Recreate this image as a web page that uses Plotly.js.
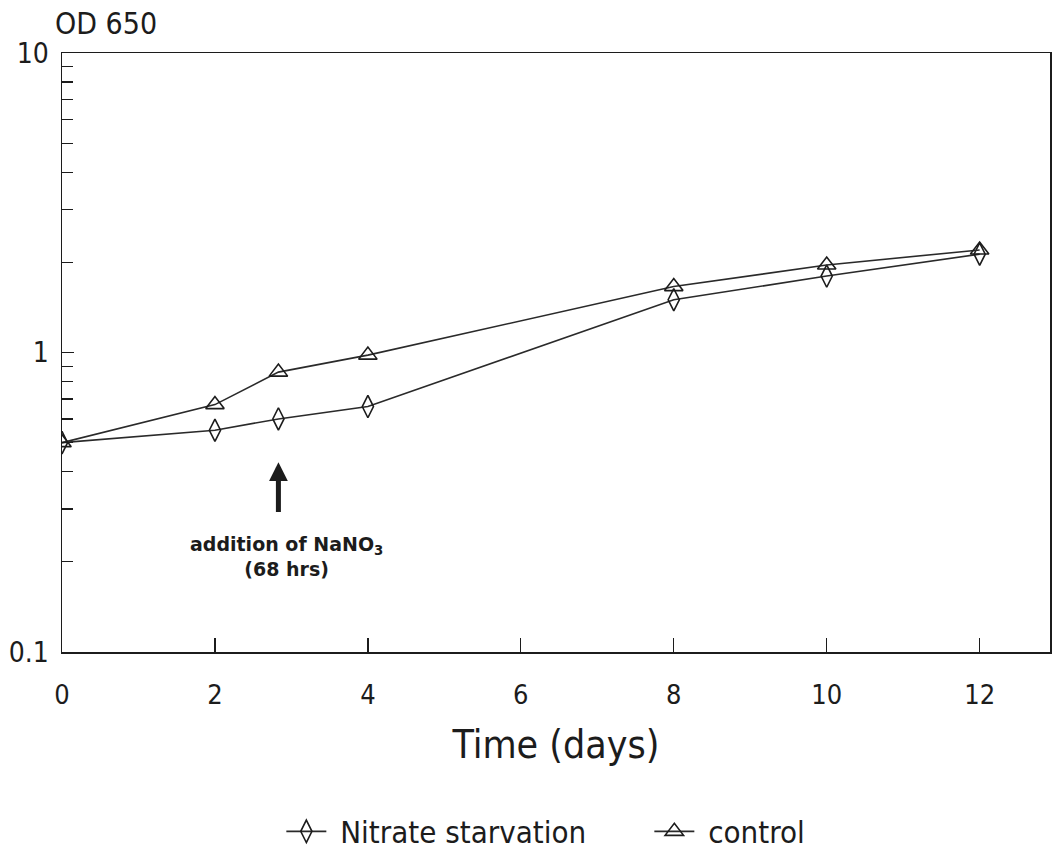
<!DOCTYPE html>
<html>
<head>
<meta charset="utf-8">
<script src="https://cdn.plot.ly/plotly-3.0.1.min.js"></script>
<style>html,body{margin:0;padding:0;background:#fff;}#chart{width:1053px;height:862px;}</style>
</head>
<body>
<div id="chart"></div>
<script>
// Data (time in days, OD 650)
const timeDays = [0, 2, 2.83, 4, 8, 10, 12];
const nitrateStarvation = [0.50, 0.55, 0.60, 0.66, 1.50, 1.80, 2.13];
const control = [0.50, 0.67, 0.86, 0.98, 1.66, 1.96, 2.20];
const xTickVals = [0, 2, 4, 6, 8, 10, 12];
const yTickVals = [0.1, 1, 10];
const yTickText = ['0.1', '1', '10'];
const yMinorVals = [0.2,0.3,0.4,0.5,0.6,0.7,0.8,0.9,2,3,4,5,6,7,8,9];
const seriesNames = ['Nitrate starvation', 'control'];
const additionTime = 2.83;   // 68 hrs
const arrowHead = 0.43;
const arrowTail = 0.29;
const labelY = 0.208;

const FONT = '"DejaVu Sans Condensed", "Liberation Sans", Arial, sans-serif';
const INK = '#1c1c1c';

const traces = [
  {
    x: timeDays, y: nitrateStarvation, name: '\u00a0' + seriesNames[0],
    mode: 'lines+markers', type: 'scatter',
    line: {color: '#2a2a2a', width: 1.6},
    marker: {symbol: 'diamond-tall-open', size: 16, color: '#1c1c1c', line: {width: 1.6}}
  },
  {
    x: timeDays, y: control, name: '\u00a0' + seriesNames[1],
    mode: 'lines+markers', type: 'scatter',
    line: {color: '#2a2a2a', width: 1.6},
    marker: {symbol: 'triangle-up-open', size: 16, color: '#1c1c1c', line: {width: 1.6}}
  }
];

const layout = {
  width: 1053, height: 862,
  paper_bgcolor: '#fff', plot_bgcolor: '#fff',
  margin: {l: 62, r: 3, t: 53, b: 208},
  font: {family: FONT, color: INK},
  showlegend: true,
  legend: {
    orientation: 'h', x: 0.222, xanchor: 'left', y: -0.30, yanchor: 'middle',
    font: {size: 31, family: FONT, color: INK}, itemwidth: 40,
    entrywidth: 313, entrywidthmode: 'pixels'
  },
  xaxis: {
    range: [0, 12.92], tickvals: xTickVals, ticktext: xTickVals.map(String),
    ticks: 'inside', ticklen: 14, tickwidth: 1.3, tickcolor: INK,
    showline: true, linecolor: INK, linewidth: 1.5, mirror: true,
    showgrid: false, zeroline: false,
    tickfont: {size: 27, family: FONT, color: INK},
    ticklabelstandoff: 18,
    title: {text: 'Time (days)', font: {size: 39, family: FONT, color: INK}, standoff: 22}
  },
  yaxis: {
    type: 'log', range: [-1, 1], tickvals: yTickVals, ticktext: yTickText,
    ticks: 'inside', ticklen: 12, tickwidth: 1.3, tickcolor: INK,
    showline: true, linecolor: INK, linewidth: 1.5, mirror: true,
    showgrid: false, zeroline: false,
    tickfont: {size: 28, family: FONT, color: INK},
    ticklabelstandoff: 6,
    minor: {tickmode: 'array', tickvals: yMinorVals, ticks: 'inside', ticklen: 11, tickwidth: 1.3, tickcolor: INK, showgrid: false}
  },
  annotations: [
    {
      xref: 'paper', yref: 'paper', x: 0, y: 1, xanchor: 'left', yanchor: 'bottom', yshift: 10, xshift: -9,
      text: 'OD 650', showarrow: false, font: {size: 30, family: FONT, color: INK}
    },
    {
      xref: 'x', yref: 'y', axref: 'x', ayref: 'y',
      x: additionTime, y: Math.log10(arrowHead), ax: additionTime, ay: Math.log10(arrowTail),
      text: '', showarrow: true, arrowhead: 2, arrowsize: 0.75, arrowwidth: 5, arrowcolor: INK
    },
    {
      xref: 'x', yref: 'y', x: additionTime + 0.1, y: Math.log10(labelY),
      text: '<b>addition of NaNO<sub>3</sub></b><br><b>(68 hrs)</b>', showarrow: false,
      align: 'center', font: {size: 19, family: '"DejaVu Sans", "Liberation Sans", Arial, sans-serif', color: INK}
    }
  ]
};

Plotly.newPlot('chart', traces, layout, {staticPlot: true, displayModeBar: false});
</script>
</body>
</html>
